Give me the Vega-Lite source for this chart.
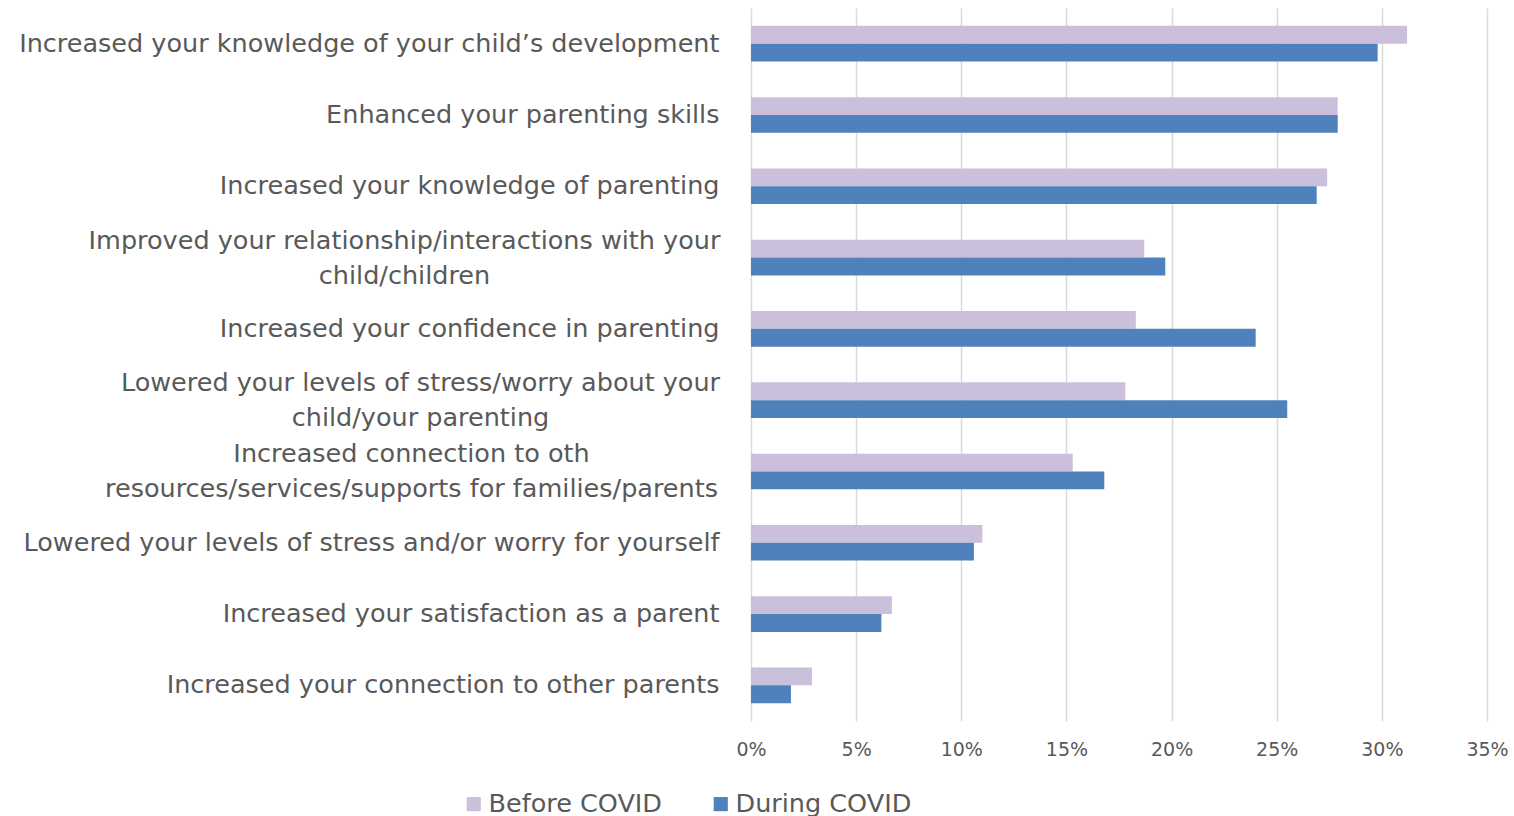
{
  "$schema": "https://vega.github.io/schema/vega-lite/v6.json",
  "width": 736,
  "height": 713,
  "padding": {"left": 18, "top": 8, "right": 28, "bottom": 5},
  "background": "white",
  "data": {
    "values": [
      {"item": "Increased your knowledge of your child’s development", "period": "Before COVID", "value": 0.312},
      {"item": "Increased your knowledge of your child’s development", "period": "During COVID", "value": 0.298},
      {"item": "Enhanced your parenting skills", "period": "Before COVID", "value": 0.279},
      {"item": "Enhanced your parenting skills", "period": "During COVID", "value": 0.279},
      {"item": "Increased your knowledge of parenting", "period": "Before COVID", "value": 0.274},
      {"item": "Increased your knowledge of parenting", "period": "During COVID", "value": 0.269},
      {"item": "Improved your relationship/interactions with your|child/children", "period": "Before COVID", "value": 0.187},
      {"item": "Improved your relationship/interactions with your|child/children", "period": "During COVID", "value": 0.197},
      {"item": "Increased your confidence in parenting", "period": "Before COVID", "value": 0.183},
      {"item": "Increased your confidence in parenting", "period": "During COVID", "value": 0.240},
      {"item": "Lowered your levels of stress/worry about your|child/your parenting", "period": "Before COVID", "value": 0.178},
      {"item": "Lowered your levels of stress/worry about your|child/your parenting", "period": "During COVID", "value": 0.255},
      {"item": "Increased connection to oth|resources/services/supports for families/parents", "period": "Before COVID", "value": 0.153},
      {"item": "Increased connection to oth|resources/services/supports for families/parents", "period": "During COVID", "value": 0.168},
      {"item": "Lowered your levels of stress and/or worry for yourself", "period": "Before COVID", "value": 0.110},
      {"item": "Lowered your levels of stress and/or worry for yourself", "period": "During COVID", "value": 0.106},
      {"item": "Increased your satisfaction as a parent", "period": "Before COVID", "value": 0.067},
      {"item": "Increased your satisfaction as a parent", "period": "During COVID", "value": 0.062},
      {"item": "Increased your connection to other parents", "period": "Before COVID", "value": 0.029},
      {"item": "Increased your connection to other parents", "period": "During COVID", "value": 0.019}
    ]
  },
  "mark": {"type": "bar"},
  "encoding": {
    "y": {
      "field": "item",
      "type": "nominal",
      "sort": null,
      "scale": {"paddingInner": 0.5, "paddingOuter": 0.25},
      "axis": {
        "title": null,
        "domain": false,
        "ticks": false,
        "labelPadding": {
          "condition": [
            {"test": "indexof(datum.value, 'Improved') == 0", "value": 347},
            {"test": "indexof(datum.value, 'Lowered your levels of stress/worry') == 0", "value": 331},
            {"test": "indexof(datum.value, 'Increased connection to oth') == 0", "value": 340}
          ],
          "value": 32
        },
        "labelAlign": {"condition": {"test": "indexof(datum.value, '|') >= 0", "value": "center"}, "value": "right"},
        "labelOffset": {"condition": {"test": "indexof(datum.value, '|') >= 0", "value": -17}, "value": 0},
        "labelFont": "DejaVu Sans",
        "labelFontSize": 25.5,
        "labelColor": "#595959",
        "labelLimit": 900,
        "labelLineHeight": 35,
        "labelBaseline": "middle",
        "labelExpr": "split(datum.label, '|')"
      }
    },
    "yOffset": {"field": "period", "type": "nominal", "sort": ["Before COVID", "During COVID"]},
    "x": {
      "field": "value",
      "type": "quantitative",
      "scale": {"domain": [0, 0.35], "nice": false},
      "axis": {
        "title": null,
        "format": "%",
        "values": [0, 0.05, 0.1, 0.15, 0.2, 0.25, 0.3, 0.35],
        "domain": false,
        "ticks": false,
        "labelFlush": false,
        "labelPadding": 19,
        "labelFont": "DejaVu Sans",
        "labelFontSize": 19,
        "labelColor": "#595959",
        "gridColor": "#d9d9d9",
        "gridWidth": 1.5
      }
    },
    "color": {
      "field": "period",
      "type": "nominal",
      "scale": {"domain": ["Before COVID", "During COVID"], "range": ["#cbc0dc", "#4f81bd"]},
      "legend": {
        "title": null,
        "orient": "none",
        "direction": "horizontal",
        "legendX": -290,
        "legendY": 783,
        "symbolType": "square",
        "symbolSize": 200,
        "symbolStrokeWidth": 0,
        "labelFont": "DejaVu Sans",
        "labelFontSize": 25.5,
        "labelLimit": 400,
        "labelColor": "#595959",
        "columnPadding": 45,
        "labelOffset": 2
      }
    }
  },
  "config": {"view": {"stroke": null}}
}
